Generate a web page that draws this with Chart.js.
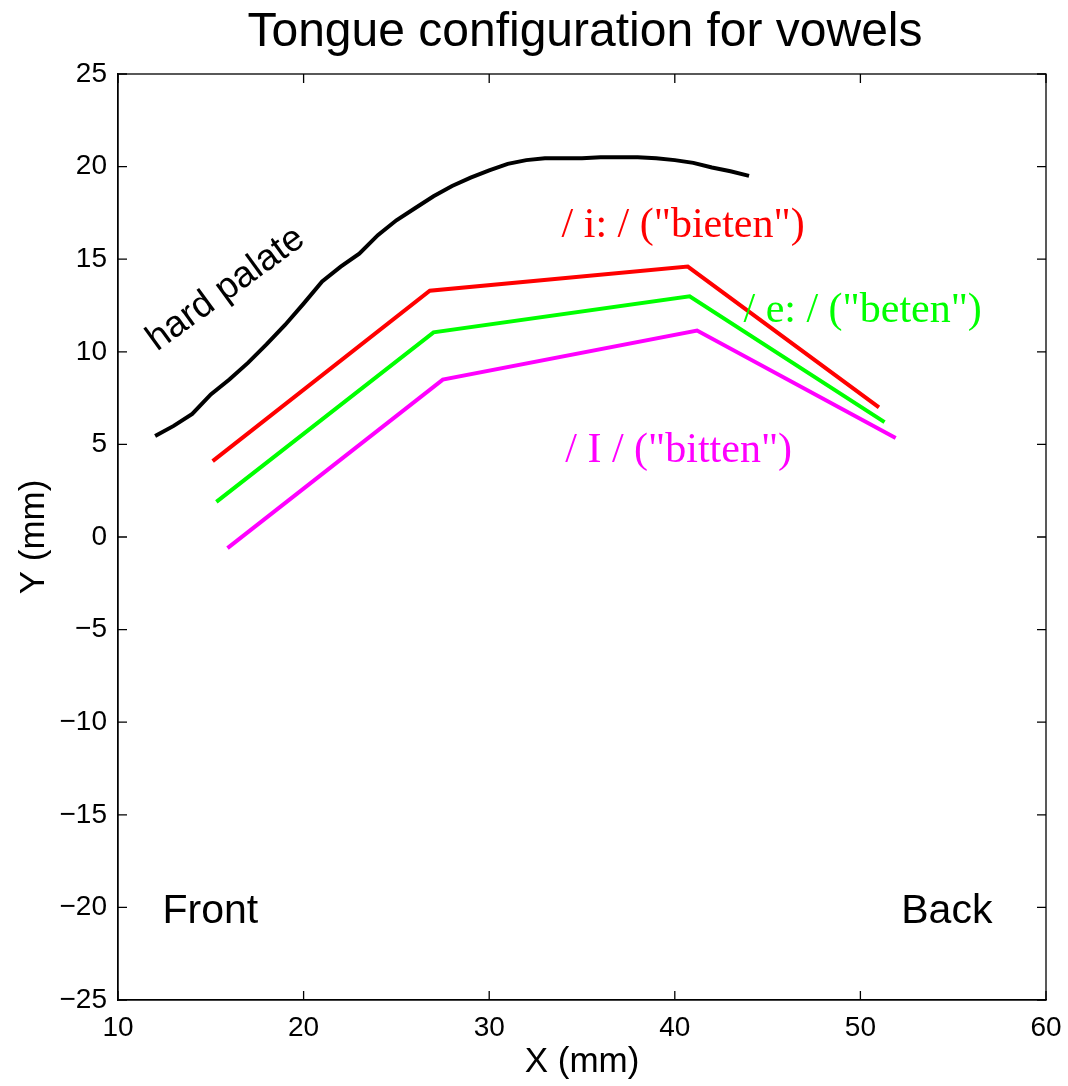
<!DOCTYPE html>
<html lang="en">
<head>
  <meta charset="UTF-8" />
  <title>Tongue configuration for vowels</title>
  <script src="https://cdn.jsdelivr.net/npm/chart.js"></script>
  <style>
    html, body { margin: 0; padding: 0; background: #fff; }
    #box { width: 1068px; height: 1086px; }
  </style>
</head>
<body>
  <div id="box"><canvas id="vowelChart" width="1068" height="1086"></canvas></div>

  <script>
// === data (mm) ===
const palateX = [12, 13, 14, 15, 16, 17, 18, 19, 20, 21, 22, 23, 24, 25, 26, 27, 28, 29, 30, 31, 32, 33, 34, 35, 36, 37, 38, 39, 40, 41, 42, 43, 44];
const palateY = [5.45, 6.0, 6.65, 7.7, 8.5, 9.4, 10.4, 11.45, 12.6, 13.8, 14.6, 15.3, 16.3, 17.1, 17.75, 18.4, 18.95, 19.4, 19.8, 20.15, 20.35, 20.45, 20.45, 20.45, 20.5, 20.5, 20.5, 20.45, 20.35, 20.2, 19.95, 19.75, 19.5];

const bietenX = [15.1, 26.8, 40.7, 51.0];
const bietenY = [4.1, 13.3, 14.6, 7.0];
const betenX = [15.3, 27.0, 40.8, 51.3];
const betenY = [1.9, 11.05, 13.0, 6.2];
const bittenX = [15.9, 27.5, 41.2, 51.9];
const bittenY = [-0.6, 8.5, 11.15, 5.35];

const xTicks = [10, 20, 30, 40, 50, 60];
const yTicks = [-25, -20, -15, -10, -5, 0, 5, 10, 15, 20, 25];

// text labels placed in data coordinates
const notes = [
  { text: 'hard palate', x: 12.1, y: 10.0, color: '#000', font: '37px "Liberation Sans", Arial, sans-serif', angle: -36 },
  { text: '/ i: / ("bieten")', x: 33.9, y: 16.2, color: '#ff0000', font: '42px "Liberation Serif", "Times New Roman", serif', angle: 0 },
  { text: '/ e: / ("beten")', x: 43.7, y: 11.6, color: '#00ff00', font: '42px "Liberation Serif", "Times New Roman", serif', angle: 0 },
  { text: '/ I / ("bitten")', x: 34.1, y: 4.05, color: '#ff00ff', font: '42px "Liberation Serif", "Times New Roman", serif', angle: 0 },
  { text: 'Front', x: 12.4, y: -20.85, color: '#000', font: '41px "Liberation Sans", Arial, sans-serif', angle: 0 },
  { text: 'Back', x: 52.2, y: -20.85, color: '#000', font: '41px "Liberation Sans", Arial, sans-serif', angle: 0 }
];

function toPoints(xs, ys) {
  return xs.map((x, i) => ({ x: x, y: ys[i] }));
}

function minusLabel(v) {
  return v < 0 ? '\u2212' + Math.abs(v) : String(v);
}

const sans = '"Liberation Sans", Arial, sans-serif';

// box, inward ticks, title and notes
const matlabLook = {
  id: 'matlabLook',
  afterDatasetsDraw(chart) {
    const ctx = chart.ctx;
    const a = chart.chartArea;
    const xs = chart.scales.x, ys = chart.scales.y;
    ctx.save();

    notes.forEach(n => {
      ctx.save();
      ctx.translate(xs.getPixelForValue(n.x), ys.getPixelForValue(n.y));
      ctx.rotate(n.angle * Math.PI / 180);
      ctx.font = n.font;
      ctx.fillStyle = n.color;
      ctx.textAlign = 'left';
      ctx.textBaseline = 'alphabetic';
      ctx.fillText(n.text, 0, 0);
      ctx.restore();
    });

    ctx.strokeStyle = '#000';
    ctx.lineWidth = 1.3;
    ctx.strokeRect(a.left, a.top, a.right - a.left, a.bottom - a.top);

    const len = 9;
    ctx.beginPath();
    xTicks.forEach(t => {
      const p = xs.getPixelForValue(t);
      ctx.moveTo(p, a.bottom); ctx.lineTo(p, a.bottom - len);
      ctx.moveTo(p, a.top); ctx.lineTo(p, a.top + len);
    });
    yTicks.forEach(t => {
      const p = ys.getPixelForValue(t);
      ctx.moveTo(a.left, p); ctx.lineTo(a.left + len, p);
      ctx.moveTo(a.right, p); ctx.lineTo(a.right - len, p);
    });
    ctx.stroke();

    ctx.font = '48px ' + sans;
    ctx.fillStyle = '#000';
    ctx.textAlign = 'center';
    ctx.textBaseline = 'alphabetic';
    ctx.fillText('Tongue configuration for vowels', (a.left + a.right) / 2 + 3, 46);
    ctx.restore();
  }
};

const lineStyle = { showLine: true, pointRadius: 0, borderWidth: 4, tension: 0, fill: false };

new Chart(document.getElementById('vowelChart').getContext('2d'), {
  type: 'scatter',
  data: {
    datasets: [
      Object.assign({ label: 'hard palate', data: toPoints(palateX, palateY), borderColor: '#000000' }, lineStyle),
      Object.assign({ label: '/ i: /', data: toPoints(bietenX, bietenY), borderColor: '#ff0000' }, lineStyle),
      Object.assign({ label: '/ e: /', data: toPoints(betenX, betenY), borderColor: '#00ff00' }, lineStyle),
      Object.assign({ label: '/ I /', data: toPoints(bittenX, bittenY), borderColor: '#ff00ff' }, lineStyle)
    ]
  },
  options: {
    responsive: false,
    animation: false,
    layout: { padding: { top: 74, right: 22, left: 0, bottom: 0 } },
    plugins: {
      legend: { display: false },
      tooltip: { enabled: false },
      title: { display: false }
    },
    scales: {
      x: {
        type: 'linear',
        min: 10, max: 60,
        afterFit: s => { s.height = 86; s.paddingLeft = 0; s.paddingRight = 0; },
        afterBuildTicks: s => { s.ticks = xTicks.map(v => ({ value: v })); },
        ticks: { color: '#000', font: { family: sans, size: 28 }, padding: 11, maxRotation: 0, callback: minusLabel },
        grid: { drawOnChartArea: false, drawTicks: false },
        border: { color: '#000', width: 1.3 },
        title: { display: true, text: 'X (mm)', color: '#000', font: { family: sans, size: 35 }, padding: { top: 0, bottom: 3 } }
      },
      y: {
        type: 'linear',
        min: -25, max: 25,
        afterFit: s => { s.width = 118; s.paddingTop = 0; s.paddingBottom = 0; },
        afterBuildTicks: s => { s.ticks = yTicks.map(v => ({ value: v })); },
        ticks: { color: '#000', font: { family: sans, size: 28 }, padding: 11, callback: minusLabel },
        grid: { drawOnChartArea: false, drawTicks: false },
        border: { color: '#000', width: 1.3 },
        title: { display: true, text: 'Y (mm)', color: '#000', font: { family: sans, size: 35 }, padding: { top: 13, bottom: 0 } }
      }
    }
  },
  plugins: [matlabLook]
});
  </script>
</body>
</html>
